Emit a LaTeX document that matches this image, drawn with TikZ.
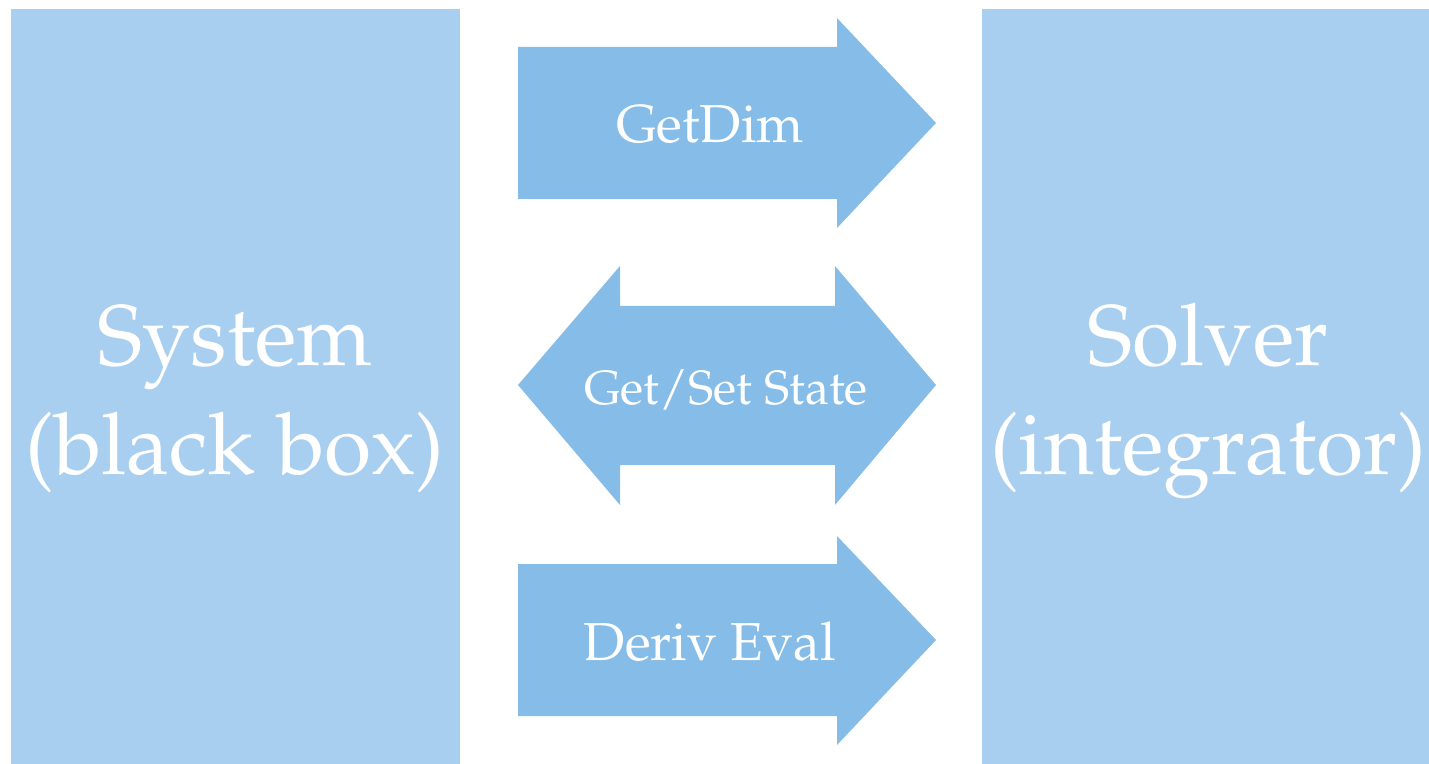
\documentclass[tikz,border=0pt]{standalone}
\usepackage[T1]{fontenc}
\usepackage{mathpazo}
\definecolor{boxblue}{HTML}{A8CFEF}
\definecolor{arrowblue}{HTML}{86BCE8}
\tikzset{
  panel/.style={fill=boxblue, draw=none},
  flow/.style={fill=arrowblue, draw=none},
  bigtext/.style={text=white, align=center, font=\fontsize{43}{52}\selectfont, inner sep=0pt, anchor=base},
  smalltext/.style={text=white, font=\fontsize{26.7}{32}\selectfont, inner sep=0pt, anchor=base},
}
\begin{document}
\begin{tikzpicture}[x=0.5pt, y=-0.5pt]
  \useasboundingbox (0,0) rectangle (1429,764);
  \fill[white] (0,0) rectangle (1429,764);

  % side panels
  \fill[panel] (11,9) rectangle (460,764);
  \fill[panel] (982,9) rectangle (1429,764);
  \node[bigtext] (sys1) at (235,366) {System};
  \node[bigtext] (sys2) at (235,474) {(black box)};
  \node[bigtext] (sol1) at (1208,366) {Solver};
  \node[bigtext] (sol2) at (1208,474) {(integrator)};

  % GetDim arrow
  \fill[flow] (518,47) -- (837,47) -- (837,18) -- (936,123) -- (837,228)
              -- (837,199) -- (518,199) -- cycle;
  \node[smalltext] (getdim) at (710,143) {GetDim};

  % Get/Set State double arrow
  \fill[flow] (518,385) -- (620,266) -- (620,306) -- (835,306) -- (835,266)
              -- (936,385) -- (835,505) -- (835,465) -- (620,465) -- (620,505) -- cycle;
  \node[smalltext, font=\fontsize{24}{29}\selectfont] (state) at (726,405) {Get/Set State};

  % Deriv Eval arrow
  \fill[flow] (518,564) -- (837,564) -- (837,536) -- (936,640) -- (837,745)
              -- (837,716) -- (518,716) -- cycle;
  \node[smalltext] (deriv) at (710,660) {Deriv Eval};
\end{tikzpicture}
\end{document}
